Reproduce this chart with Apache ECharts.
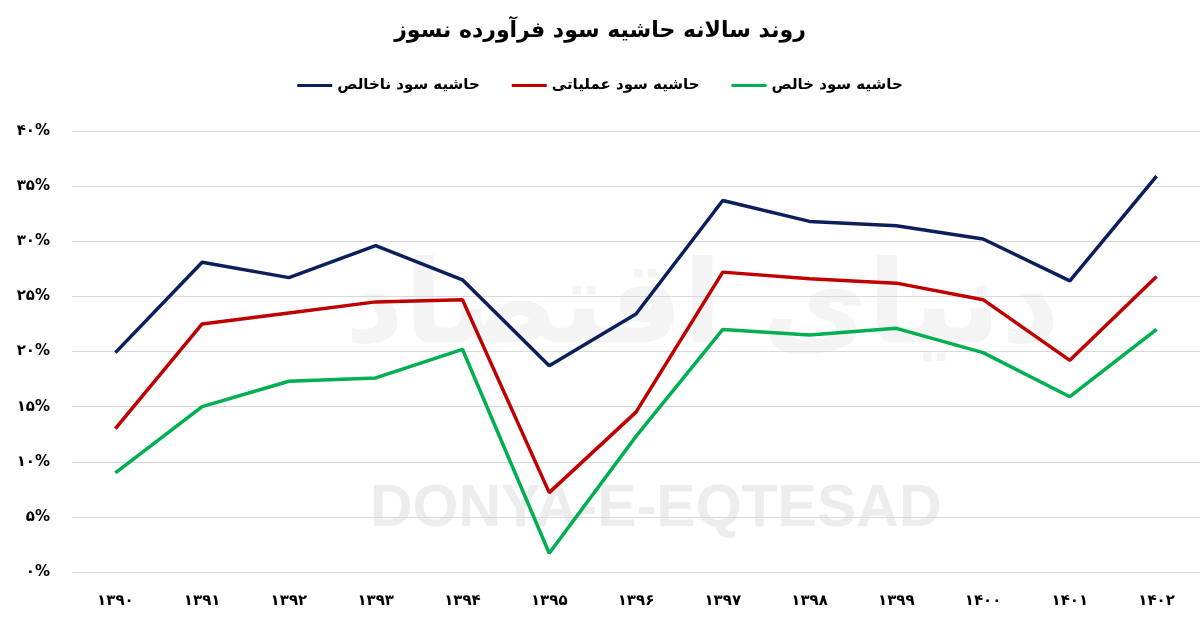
<!DOCTYPE html>
<html>
<head>
<meta charset="utf-8">
<script src="https://cdn.jsdelivr.net/npm/echarts@6/dist/echarts.min.js"></script>
<style>
html,body{margin:0;padding:0;background:#fff;}
#c{width:1200px;height:629px;}
</style>
</head>
<body>
<div id="c"></div>
<script>
const title = 'روند سالانه حاشیه سود فرآورده نسوز';
const categories = ['۱۳۹۰','۱۳۹۱','۱۳۹۲','۱۳۹۳','۱۳۹۴','۱۳۹۵','۱۳۹۶','۱۳۹۷','۱۳۹۸','۱۳۹۹','۱۴۰۰','۱۴۰۱','۱۴۰۲'];
const seriesNames = ['حاشیه سود ناخالص','حاشیه سود عملیاتی','حاشیه سود خالص'];
const grossMargin = [19.9, 28.1, 26.7, 29.6, 26.5, 18.7, 23.4, 33.7, 31.8, 31.4, 30.2, 26.4, 35.9];
const operatingMargin = [13.0, 22.5, 23.5, 24.5, 24.7, 7.2, 14.5, 27.2, 26.6, 26.2, 24.7, 19.2, 26.8];
const netMargin = [9.0, 15.0, 17.3, 17.6, 20.2, 1.7, 12.3, 22.0, 21.5, 22.1, 19.9, 15.9, 22.0];
const yTicks = {min: 0, max: 40, interval: 5};

const faDigits = '۰۱۲۳۴۵۶۷۸۹';
const toFa = s => String(s).replace(/[0-9]/g, d => faDigits[+d]);
const colors = ['#0b1f5c', '#c00000', '#00b050'];
const fontFa = '"DejaVu Sans", "Noto Sans", sans-serif';

const chart = echarts.init(document.getElementById('c'), null, {renderer: 'canvas'});
chart.setOption({
  animation: false,
  backgroundColor: '#ffffff',
  title: {
    text: title, left: 'center', top: 15,
    textStyle: {fontFamily: fontFa, fontSize: 22, fontWeight: 'bold', color: '#000'}
  },
  legend: {
    data: seriesNames, top: 73, left: 'center', itemGap: 32,
    itemWidth: 35, itemHeight: 3, icon: 'rect',
    textStyle: {fontFamily: fontFa, fontSize: 15, fontWeight: 'bold', color: '#000'}
  },
  graphic: [
    {type: 'text', left: 345, top: 255, z: -10, silent: true,
     style: {text: 'دنیای اقتصاد', font: 'bold 115px "DejaVu Sans"', fill: '#f4f4f4'}},
    {type: 'text', left: 370, top: 480, z: -10, silent: true,
     style: {text: 'DONYA-E-EQTESAD', font: 'bold 59px "Liberation Sans", "DejaVu Sans"', fill: '#ededed'}}
  ],
  grid: {left: 72, right: 0, top: 131, bottom: 57, containLabel: false},
  xAxis: {
    type: 'category', data: categories, boundaryGap: true,
    axisLine: {show: false}, axisTick: {show: false},
    axisLabel: {margin: 22, fontFamily: fontFa, fontSize: 15, fontWeight: 'bold', color: '#000'}
  },
  yAxis: {
    type: 'value', min: yTicks.min, max: yTicks.max, interval: yTicks.interval,
    axisLine: {show: false}, axisTick: {show: false},
    splitLine: {lineStyle: {color: '#d9d9d9', width: 1}},
    axisLabel: {margin: 22, fontFamily: fontFa, fontSize: 15, fontWeight: 'bold', color: '#000',
      formatter: v => toFa(v) + '%'}
  },
  series: [
    {name: seriesNames[0], type: 'line', data: grossMargin, symbol: 'none', lineStyle: {width: 3.5, color: colors[0]}, itemStyle: {color: colors[0]}},
    {name: seriesNames[1], type: 'line', data: operatingMargin, symbol: 'none', lineStyle: {width: 3.5, color: colors[1]}, itemStyle: {color: colors[1]}},
    {name: seriesNames[2], type: 'line', data: netMargin, symbol: 'none', lineStyle: {width: 3.5, color: colors[2]}, itemStyle: {color: colors[2]}}
  ]
});
</script>
</body>
</html>
